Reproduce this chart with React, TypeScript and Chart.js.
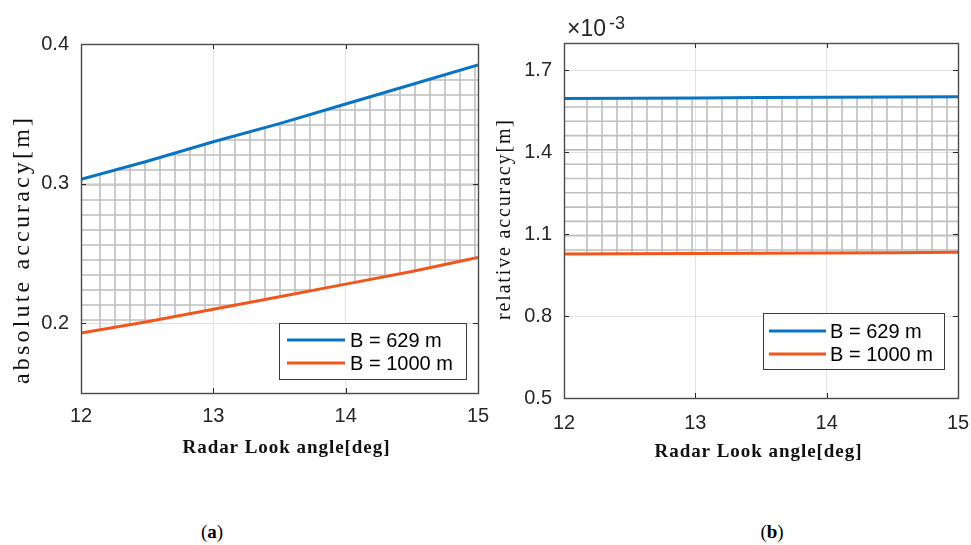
import React, { useEffect, useRef } from "react";
import { Chart, registerables } from "chart.js";

Chart.register(...registerables);

// ---------- data ----------
const ANGLES = [12, 12.5, 13, 13.5, 14, 14.5, 15];
const ABS_629 = [0.303, 0.316, 0.33, 0.343, 0.357, 0.371, 0.385];
const ABS_1000 = [0.193, 0.201, 0.21, 0.219, 0.228, 0.237, 0.247];
const REL_629 = [1.597e-3, 1.598e-3, 1.599e-3, 1.6e-3, 1.601e-3, 1.602e-3, 1.603e-3];
const REL_1000 = [1.027e-3, 1.028e-3, 1.029e-3, 1.03e-3, 1.031e-3, 1.032e-3, 1.034e-3];
const X_TICKS = [12, 13, 14, 15];
const ABS_TICKS = [0.2, 0.3, 0.4];
const REL_TICKS = [0.5e-3, 0.8e-3, 1.1e-3, 1.4e-3, 1.7e-3];
const SERIES_LABELS = ["B = 629 m", "B = 1000 m"];
const X_TITLE = "Radar Look angle[deg]";
const ABS_TITLE = "absolute accuracy[m]";
const REL_TITLE = "relative accuracy[m]";
const REL_EXPONENT = "-3";
const CAPTIONS = ["a", "b"];

const BLUE = "#0a74c4";
const ORANGE = "#f2561d";
const SANS = "'Liberation Sans', Arial, sans-serif";
const SERIF = "'Liberation Serif', 'Times New Roman', serif";
const INK = "#262626";

type Panel = {
  width: number;
  height: number;
  area: { left: number; top: number; right: number; bottom: number };
  s1: number[];
  s2: number[];
  yMin: number;
  yMax: number;
  yTicks: number[];
  fmt: (v: number) => string;
  xPad: number;
  hatch: { x0: number; xStep: number; yAnchor: number; yStep: number };
  legend: { x: number; y: number; w: number; h: number; rows: number[]; lx0: number; lx1: number; tx: number };
  xTitle: { cx: number; cy: number; w: number };
  yTitle: { cx: number; cy: number; w: number; text: string; size: number };
  exponent?: { x: number; y: number; ex: number; ey: number };
};

function spacedText(ctx: CanvasRenderingContext2D, text: string, cx: number, cy: number, target: number) {
  (ctx as any).letterSpacing = "0px";
  const w = ctx.measureText(text).width;
  const ls = (target - w) / (text.length - 1);
  (ctx as any).letterSpacing = `${ls}px`;
  ctx.textAlign = "left";
  ctx.textBaseline = "middle";
  ctx.fillText(text, cx - target / 2, cy);
  (ctx as any).letterSpacing = "0px";
}

function makeConfig(p: Panel): any {
  const pts = (ys: number[]) => ANGLES.map((x, i) => ({ x, y: ys[i] }));
  const deco = {
    id: "deco",
    beforeDatasetsDraw(chart: any) {
      const ctx = chart.ctx as CanvasRenderingContext2D;
      const { left, right, top, bottom } = chart.chartArea;
      const a = chart.getDatasetMeta(0).data;
      const b = chart.getDatasetMeta(1).data;
      ctx.save();
      ctx.beginPath();
      a.forEach((pt: any, i: number) => (i ? ctx.lineTo(pt.x, pt.y) : ctx.moveTo(pt.x, pt.y)));
      for (let i = b.length - 1; i >= 0; i--) ctx.lineTo(b[i].x, b[i].y);
      ctx.closePath();
      ctx.clip();
      ctx.strokeStyle = "#bfbfbf";
      ctx.lineWidth = 1.6;
      ctx.beginPath();
      for (let x = left + p.hatch.x0; x < right; x += p.hatch.xStep) {
        ctx.moveTo(x, top);
        ctx.lineTo(x, bottom);
      }
      let y0 = p.hatch.yAnchor;
      while (y0 - p.hatch.yStep > top) y0 -= p.hatch.yStep;
      for (let y = y0; y < bottom; y += p.hatch.yStep) {
        ctx.moveTo(left, y);
        ctx.lineTo(right, y);
      }
      ctx.stroke();
      ctx.restore();
    },
    afterDatasetsDraw(chart: any) {
      const ctx = chart.ctx as CanvasRenderingContext2D;
      const { left, right, top, bottom } = chart.chartArea;
      const xs = chart.scales.x;
      const ys = chart.scales.y;
      ctx.save();
      // tick marks (inside, all four sides)
      ctx.strokeStyle = INK;
      ctx.lineWidth = 1;
      ctx.beginPath();
      X_TICKS.forEach((v) => {
        const px = Math.round(xs.getPixelForValue(v)) + 0.5;
        ctx.moveTo(px, bottom);
        ctx.lineTo(px, bottom - 5);
        ctx.moveTo(px, top);
        ctx.lineTo(px, top + 5);
      });
      p.yTicks.forEach((v) => {
        const py = Math.round(ys.getPixelForValue(v)) + 0.5;
        ctx.moveTo(left, py);
        ctx.lineTo(left + 5, py);
        ctx.moveTo(right, py);
        ctx.lineTo(right - 5, py);
      });
      ctx.stroke();
      // axes box
      ctx.strokeStyle = "#4a4a4a";
      ctx.lineWidth = 1.4;
      ctx.strokeRect(Math.round(left) + 0.5, Math.round(top) + 0.5, Math.round(right - left), Math.round(bottom - top));
      // legend
      const L = p.legend;
      ctx.fillStyle = "#ffffff";
      ctx.fillRect(L.x, L.y, L.w, L.h);
      ctx.strokeStyle = "#3a3a3a";
      ctx.lineWidth = 1;
      ctx.strokeRect(L.x + 0.5, L.y + 0.5, L.w, L.h);
      const cols = [BLUE, ORANGE];
      ctx.font = `20px ${SANS}`;
      ctx.textAlign = "left";
      ctx.textBaseline = "middle";
      SERIES_LABELS.forEach((lab, i) => {
        ctx.strokeStyle = cols[i];
        ctx.lineWidth = 3;
        ctx.beginPath();
        ctx.moveTo(L.lx0, L.rows[i]);
        ctx.lineTo(L.lx1, L.rows[i]);
        ctx.stroke();
        ctx.fillStyle = "#000";
        ctx.fillText(lab, L.tx, L.rows[i] + 1);
      });
      // titles
      ctx.fillStyle = "#111";
      ctx.font = `bold 19px ${SERIF}`;
      spacedText(ctx, X_TITLE, p.xTitle.cx, p.xTitle.cy, p.xTitle.w);
      ctx.save();
      ctx.translate(p.yTitle.cx, p.yTitle.cy);
      ctx.rotate(-Math.PI / 2);
      ctx.font = `${p.yTitle.size}px ${SERIF}`;
      spacedText(ctx, p.yTitle.text, 0, 0, p.yTitle.w);
      ctx.restore();
      // exponent
      if (p.exponent) {
        ctx.fillStyle = INK;
        ctx.textAlign = "left";
        ctx.textBaseline = "alphabetic";
        ctx.font = `23px ${SANS}`;
        ctx.fillText("\u00d710", p.exponent.x, p.exponent.y);
        ctx.font = `18px ${SANS}`;
        ctx.fillText(REL_EXPONENT, p.exponent.ex, p.exponent.ey);
      }
      ctx.restore();
    },
  };

  return {
    type: "line",
    data: {
      datasets: [
        { label: SERIES_LABELS[0], data: pts(p.s1), borderColor: BLUE, borderWidth: 3, pointRadius: 0, tension: 0, fill: false },
        { label: SERIES_LABELS[1], data: pts(p.s2), borderColor: ORANGE, borderWidth: 3, pointRadius: 0, tension: 0, fill: false },
      ],
    },
    options: {
      responsive: false,
      animation: false,
      events: [],
      layout: {
        padding: { left: 0, top: p.area.top, right: p.width - p.area.right, bottom: 0 },
      },
      plugins: { legend: { display: false }, tooltip: { enabled: false }, title: { display: false } },
      scales: {
        x: {
          type: "linear",
          min: 12,
          max: 15,
          afterBuildTicks: (s: any) => {
            s.ticks = X_TICKS.map((value) => ({ value }));
          },
          afterFit: (s: any) => {
            s.height = p.height - p.area.bottom;
            s.paddingLeft = 0;
            s.paddingRight = 0;
          },
          grid: { color: "#e2e2e2", lineWidth: 1, drawTicks: false },
          border: { display: false },
          ticks: {
            padding: p.xPad,
            color: INK,
            font: { family: SANS, size: 20 },
            maxRotation: 0,
            callback: (v: any) => String(v),
          },
        },
        y: {
          type: "linear",
          min: p.yMin,
          max: p.yMax,
          afterBuildTicks: (s: any) => {
            s.ticks = p.yTicks.map((value) => ({ value }));
          },
          afterFit: (s: any) => {
            s.width = p.area.left;
            s.paddingTop = 0;
            s.paddingBottom = 0;
          },
          grid: { color: "#e2e2e2", lineWidth: 1, drawTicks: false },
          border: { display: false },
          ticks: {
            padding: 12,
            color: INK,
            font: { family: SANS, size: 20 },
            callback: (v: any) => p.fmt(Number(v)),
          },
        },
      },
    },
    plugins: [deco],
  };
}

const PANEL_A: Panel = {
  width: 490,
  height: 480,
  area: { left: 81, top: 44, right: 478, bottom: 393 },
  s1: ABS_629,
  s2: ABS_1000,
  yMin: 0.15,
  yMax: 0.4,
  yTicks: ABS_TICKS,
  fmt: (v) => v.toFixed(1),
  xPad: 11,
  hatch: { x0: 19, xStep: 15, yAnchor: 305, yStep: 15 },
  legend: { x: 279, y: 323, w: 187, h: 56, rows: [340, 363], lx0: 287, lx1: 345, tx: 350 },
  xTitle: { cx: 286, cy: 448, w: 207 },
  yTitle: { cx: 23, cy: 251, w: 266, text: ABS_TITLE, size: 24 },
};

const PANEL_B: Panel = {
  width: 481,
  height: 480,
  area: { left: 74, top: 43, right: 468, bottom: 398 },
  s1: REL_629,
  s2: REL_1000,
  yMin: 0.5e-3,
  yMax: 1.8e-3,
  yTicks: REL_TICKS,
  fmt: (v) => (v * 1000).toFixed(1),
  xPad: 13,
  hatch: { x0: 23, xStep: 15, yAnchor: 250, yStep: 14.3 },
  legend: { x: 273, y: 313, w: 181, h: 56, rows: [331, 354], lx0: 279, lx1: 336, tx: 340 },
  xTitle: { cx: 268, cy: 452, w: 207 },
  yTitle: { cx: 15, cy: 220, w: 200, text: REL_TITLE, size: 20 },
  exponent: { x: 77, y: 36, ex: 119, ey: 29 },
};

function PanelChart({ panel }: { panel: Panel }) {
  const ref = useRef<HTMLCanvasElement>(null);
  useEffect(() => {
    if (!ref.current) return;
    const chart = new Chart(ref.current, makeConfig(panel));
    return () => chart.destroy();
  }, [panel]);
  return <canvas ref={ref} width={panel.width} height={panel.height} style={{ width: panel.width, height: panel.height, display: "block" }} />;
}

export default function App() {
  const cap = (letter: string, cx: number) => (
    <div
      key={letter}
      style={{
        position: "absolute",
        left: cx - 40,
        top: 520,
        width: 80,
        textAlign: "center",
        fontFamily: SERIF,
        fontSize: 19,
        lineHeight: "24px",
        color: "#000",
      }}
    >
      (<b>{letter}</b>)
    </div>
  );
  return (
    <div style={{ position: "fixed", left: 0, top: 0, width: 971, height: 545, background: "#fff", overflow: "hidden" }}>
      <div style={{ position: "absolute", left: 0, top: 0 }}>
        <PanelChart panel={PANEL_A} />
      </div>
      <div style={{ position: "absolute", left: 490, top: 0 }}>
        <PanelChart panel={PANEL_B} />
      </div>
      {cap(CAPTIONS[0], 212)}
      {cap(CAPTIONS[1], 772)}
    </div>
  );
}
